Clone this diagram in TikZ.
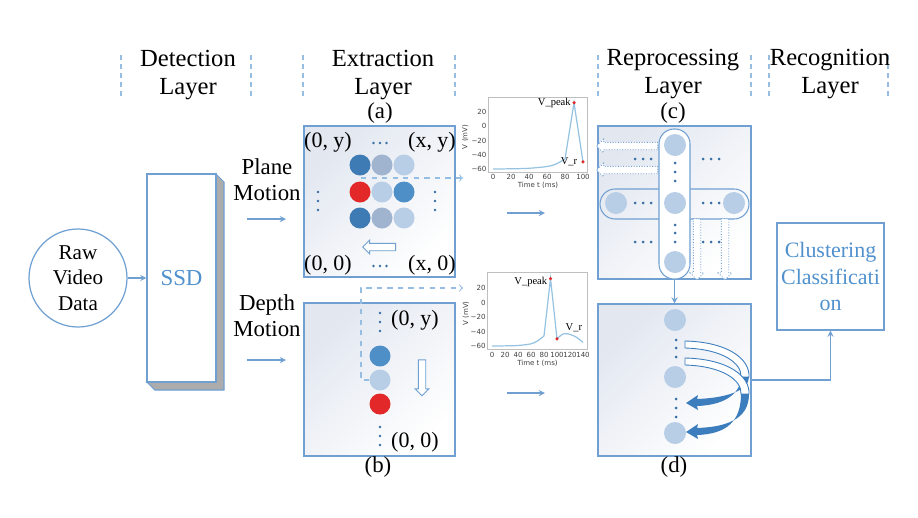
\documentclass[tikz,border=0pt]{standalone}
\usepackage{fontspec}
\setmainfont{Liberation Serif}
\newfontfamily\plotfont{DejaVu Sans}
\usetikzlibrary{shapes,arrows,positioning}

\begin{document}
\begin{tikzpicture}[x=0.2mm,y=-0.2mm,>=stealth]
  % Colors
  \definecolor{linecol}{RGB}{112,160,210}
  \definecolor{sepcol}{RGB}{150,190,226}
  \definecolor{ssdcol}{RGB}{80,145,205}
  \definecolor{panelshade}{RGB}{226,231,240}
  \definecolor{sidegray}{RGB}{172,172,172}
  \definecolor{dkblue}{RGB}{62,122,180}
  \definecolor{mdblue}{RGB}{78,143,200}
  \definecolor{ltblue}{RGB}{184,205,230}
  \definecolor{gyblue}{RGB}{160,180,208}
  \definecolor{spike}{RGB}{226,40,40}
  \definecolor{dotcol}{RGB}{55,110,165}
  \definecolor{curvecol}{RGB}{150,195,226}
  \definecolor{arrowcol}{RGB}{60,125,190}

  % Styles
  \tikzstyle{layersep}=[draw=sepcol,line width=0.7pt,dash pattern=on 0.9mm off 0.9mm]
  \tikzstyle{title}=[align=center,font=\fontsize{14}{16}\selectfont]
  \tikzstyle{sublab}=[font=\fontsize{13}{15}\selectfont]
  \tikzstyle{coordlab}=[font=\fontsize{12.5}{14}\selectfont,inner sep=0pt]
  \tikzstyle{panel}=[draw=linecol,line width=0.6pt,top color=panelshade,bottom color=white,shading angle=45,inner sep=0pt]
  \tikzstyle{neuron}=[circle,inner sep=0pt,minimum size=4.2mm]
  \tikzstyle{conn}=[draw=linecol,line width=0.6pt,->]
  \tikzstyle{dashline}=[draw=sepcol,line width=0.6pt,dashed,-to]
  \tikzstyle{hollow}=[single arrow,draw=linecol,fill=white,inner xsep=0pt,inner ysep=0.65mm,single arrow head extend=0.65mm,line width=0.5pt]
  \tikzstyle{pill}=[draw=linecol,line width=0.6pt,rounded corners=3mm,inner sep=0pt]
  \tikzstyle{ticklab}=[font=\plotfont\fontsize{4}{4}\selectfont,text=black!75,inner sep=0.5pt]
  \tikzstyle{vlab}=[font=\fontsize{6}{6}\selectfont,inner sep=0.5pt]
  \tikzstyle{vdot}=[circle,fill=spike,inner sep=0pt,minimum size=0.7mm]

  \useasboundingbox (0,0) rectangle (918,517);

  % Layer headings
  \foreach \x in {121,251,303,455,598,751,769,888}
    \draw[layersep] (\x,55) -- (\x,99);
  \node[title] (tdet) at (188,75) {Detection\\Layer};
  \node[title] (text) at (383,75) {Extraction\\Layer};
  \node[title] (trep) at (673,74) {Reprocessing\\Layer};
  \node[title] (trec) at (830,74) {Recognition\\Layer};

  % Detection
  \node[draw=linecol,circle,minimum size=19.6mm,line width=0.7pt,align=center,
        inner sep=0pt,font=\fontsize{12}{14.5}\selectfont] (raw) at (78,278) {Raw\\Video\\Data};
  \filldraw[fill=sidegray,draw=linecol,line width=0.6pt]
    (216,174) -- (224,182) -- (224,390) -- (155,390) -- (147,382) -- (216,382) -- cycle;
  \node[draw=linecol,fill=white,line width=0.6pt,minimum width=13.8mm,minimum height=41.6mm,
        text=ssdcol,font=\fontsize{13}{15}\selectfont] (ssd) at (181.5,278) {SSD};
  \draw[conn] (raw) -- (ssd);

  \node[align=center,font=\fontsize{13}{14.8}\selectfont] (plane) at (267,180) {Plane\\Motion};
  \node[align=center,font=\fontsize{13}{14.8}\selectfont] (depth) at (267,316) {Depth\\Motion};
  \coordinate (pm1) at (247,219); \coordinate (pm2) at (286,219);
  \coordinate (dm1) at (247,360); \coordinate (dm2) at (286,360);
  \draw[conn] (pm1) -- (pm2);
  \draw[conn] (dm1) -- (dm2);

  % Extraction panels
  \node[panel,minimum width=30.2mm,minimum height=30.2mm] (pa) at (379.5,201.5) {};
  \node[panel,minimum width=30.2mm,minimum height=30.6mm] (pb) at (379.5,379.5) {};
  \node[sublab] (la) at (380,113) {(a)};
  \node[sublab] (lb) at (378,467) {(b)};

  \node[coordlab] (a0y) at (328,142) {(0, y)};
  \node[coordlab] (axy) at (432,142) {(x, y)};
  \node[coordlab] (a00) at (328,265) {(0, 0)};
  \node[coordlab] (ax0) at (432,265) {(x, 0)};
  \foreach \x/\y in {380/143,380/266}
    \foreach \d in {-6.5,0,6.5}
      \fill[dotcol] (\x+\d,\y) circle (1.4);
  \foreach \x in {318,435}
    \foreach \y in {192,201,210}
      \fill[dotcol] (\x,\y) circle (1.4);

  \foreach \c [count=\i] in {dkblue,gyblue,ltblue}
    \node[neuron,fill=\c] (a1\i) at (338+22*\i,165) {};
  \foreach \c [count=\i] in {spike,ltblue,mdblue}
    \node[neuron,fill=\c] (a2\i) at (338+22*\i,192) {};
  \foreach \c [count=\i] in {dkblue,gyblue,ltblue}
    \node[neuron,fill=\c] (a3\i) at (338+22*\i,218) {};
  \node[hollow,minimum height=6.6mm,rotate=180] (mva) at (381,247) {};

  \foreach \y in {313,322,331,427,436,445}
    \fill[dotcol] (380,\y) circle (1.4);
  \node[coordlab] (b0y) at (415,320) {(0, y)};
  \node[coordlab] (b00) at (415,442) {(0, 0)};
  \node[neuron,fill=mdblue] (b1) at (380,356) {};
  \node[neuron,fill=ltblue] (b2) at (380,380) {};
  \node[neuron,fill=spike] (b3) at (380,404) {};
  \node[hollow,minimum height=7.2mm,rotate=-90] (mvb) at (422,376) {};

  \coordinate (da1) at (361,178); \coordinate (da2) at (463,178);
  \coordinate (db2) at (463,288);
  \draw[dashline] (da1) -- (da2);
  \draw[dashline] (b2.west) -- (361,380) |- (db2);

  % Membrane potential, plane motion
  \begin{scope}[shift={(493,126.25)},xscale=0.9,yscale=-0.7125]
    \draw[black!25,line width=0.3pt] (-5,-65) rectangle (105,40);
    \foreach \v/\vtext in {20/20,0/0,-20/−20,-40/−40,-60/−60}
      \node[ticklab,anchor=east] at (-6,\v) {\vtext};
    \foreach \t in {0,20,...,100}
      \node[ticklab] at (\t,-71) {\t};
    \node[ticklab] at (50,-83) {Time t (ms)};
    \node[ticklab,rotate=90] at (-31,-15) {V (mV)};
    \draw[curvecol,line width=0.7pt] plot[smooth] coordinates
      {(0,-60) (20,-59.7) (40,-59) (60,-56.5) (70,-53) (80,-46)} -- (90,33) -- (100,-50);
    \node[vdot] (pk1) at (90,33) {};
    \node[vdot] (vr1) at (100,-50) {};
  \end{scope}
  \node[vlab,anchor=east] at (pk1.west) {V\_peak};
  \node[vlab,anchor=east] at ([xshift=-0.5mm]vr1.west) {V\_r};

  % Membrane potential, depth motion
  \begin{scope}[shift={(492,302.5)},xscale=0.65,yscale=-0.725]
    \draw[black!25,line width=0.3pt] (-7,-65) rectangle (147,42);
    \foreach \v/\vtext in {20/20,0/0,-20/−20,-40/−40,-60/−60}
      \node[ticklab,anchor=east] at (-8,\v) {\vtext};
    \foreach \t in {0,20,...,140}
      \node[ticklab] at (\t,-72) {\t};
    \node[ticklab] at (70,-84) {Time t (ms)};
    \node[ticklab,rotate=90] at (-40,-15) {V (mV)};
    \draw[curvecol,line width=0.7pt] plot[smooth] coordinates
      {(0,-60) (20,-59.8) (40,-59.3) (60,-57) (70,-53) (80,-46)} -- (90,33) -- (100,-50)
      plot[smooth] coordinates {(100,-50) (110,-43) (120,-44) (130,-48) (140,-55)};
    \node[vdot] (pk2) at (90,33) {};
    \node[vdot] (vr2) at (100,-50) {};
  \end{scope}
  \node[vlab,anchor=east] at ([yshift=-0.6mm]pk2.west) {V\_peak};
  \node[vlab,anchor=south west] at ([xshift=1.2mm,yshift=0.8mm]vr2.north east) {V\_r};

  \coordinate (sa1) at (507,213); \coordinate (sa2) at (545,213);
  \coordinate (sb1) at (507,393); \coordinate (sb2) at (545,393);
  \draw[conn] (sa1) -- (sa2);
  \draw[conn] (sb1) -- (sb2);

  % Reprocessing panels
  \node[panel,minimum width=30.6mm,minimum height=30.6mm] (pc) at (674.5,202.5) {};
  \node[panel,minimum width=30.6mm,minimum height=30.4mm] (pd) at (674.5,380) {};
  \node[sublab] (lc) at (673,113) {(c)};
  \node[sublab] (ld) at (674,467) {(d)};

  \node[pill,minimum width=29.8mm,minimum height=6mm] (hpill) at (674.5,204) {};
  \node[pill,fill=white,minimum width=6.2mm,minimum height=30mm] (vpill) at (674.5,204) {};
  \foreach \y [count=\i] in {145,203,262}
    \node[neuron,fill=ltblue,minimum size=4.4mm] (cv\i) at (675,\y) {};
  \node[neuron,fill=ltblue,minimum size=4.4mm] (ch1) at (616,203) {};
  \node[neuron,fill=ltblue,minimum size=4.4mm] (ch2) at (734,203) {};
  \foreach \y in {163,172,181,225,233,242}
    \fill[dotcol] (675,\y) circle (1.5);
  \foreach \x/\y in {643/159,711/159,643/203,711/203,643/242,711/242}
    \foreach \d in {-8,0,8}
      \fill[dotcol] (\x+\d,\y) circle (1.5);
  \foreach \y [count=\i] in {146,170}
    \node[hollow,densely dotted,minimum height=12.2mm,rotate=180] (lw\i) at (629,\y) {};
  \foreach \x [count=\i] in {697,725}
    \node[hollow,densely dotted,minimum height=12.2mm,rotate=-90] (dw\i) at (\x,247.5) {};

  \foreach \y [count=\i] in {320,377,433}
    \node[neuron,fill=ltblue,minimum size=4.4mm] (dv\i) at (675,\y) {};
  \foreach \y in {340,348,357,399,408,417}
    \fill[dotcol] (676,\y) circle (1.5);
  \foreach \s/\t in {341/403,358/432} {
    \filldraw[fill=white,draw=arrowcol,line width=0.5pt]
      (685,\s) .. controls (728,\s+1) and (750,\s+18) .. (749,\s+36)
      -- (741,\s+36) .. controls (742,\s+22) and (722,\s+8) .. (685,\s+7) -- cycle;
    \fill[arrowcol]
      (749,\s+36) .. controls (749,\t-12) and (725,\t-5) .. (697,\t-4)
      -- (698,\t-8) -- (686,\t) -- (698,\t+7) -- (697,\t+3)
      .. controls (728,\t+2) and (741,\t-12) .. (741,\s+36) -- cycle;
  }
  \draw[conn] (pc) -- (pd);

  % Recognition
  \node[draw=linecol,line width=0.6pt,minimum size=21.4mm,inner sep=0pt,align=center,
        text=ssdcol,font=\fontsize{12.5}{15}\selectfont] (clu) at (830.5,276.5)
        {Clustering\\Classificati\\on};
  \draw[conn] (pd.east) -| (clu.south);
\end{tikzpicture}
\end{document}
